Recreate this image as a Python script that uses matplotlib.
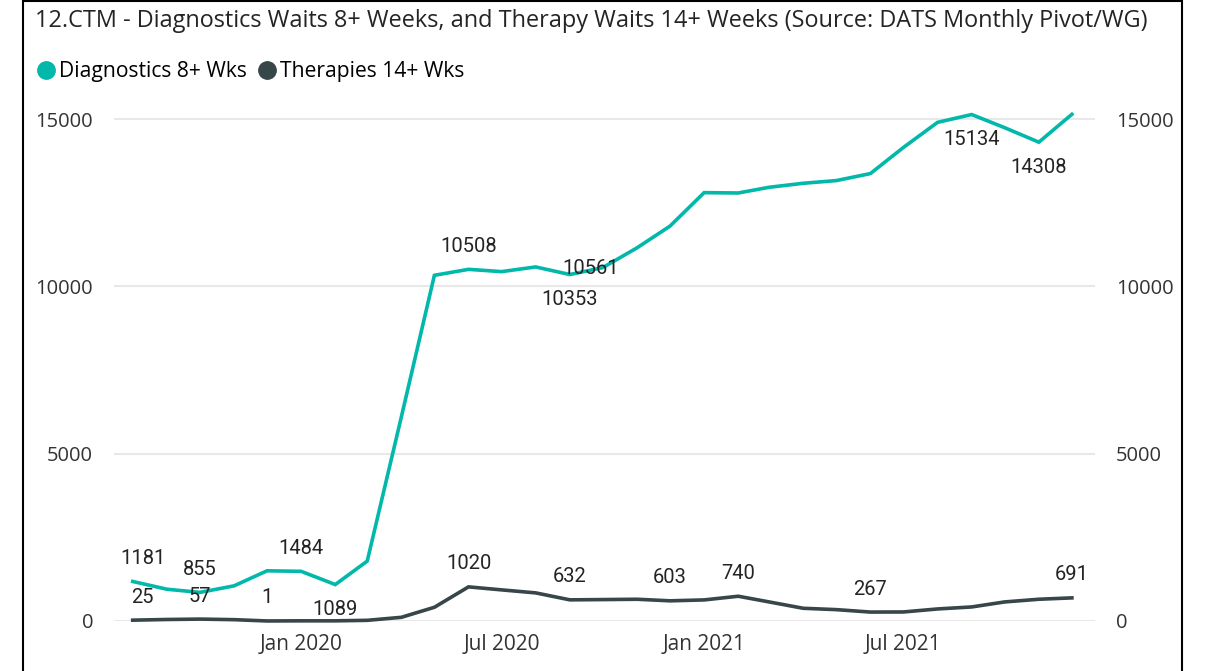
import matplotlib
matplotlib.use("Agg")
import matplotlib.pyplot as plt
import matplotlib.dates as mdates
from matplotlib.patches import Rectangle
from matplotlib.lines import Line2D
import pandas as pd

# ---- dados ----
months = ["2019-08", "2019-09", "2019-10", "2019-11", "2019-12",
          "2020-01", "2020-02", "2020-03", "2020-04", "2020-05", "2020-06",
          "2020-07", "2020-08", "2020-09", "2020-10", "2020-11", "2020-12",
          "2021-01", "2021-02", "2021-03", "2021-04", "2021-05", "2021-06",
          "2021-07", "2021-08", "2021-09", "2021-10", "2021-11", "2021-12"]
diagnostics = [1181, 950, 855, 1050, 1500, 1484, 1089, 1790, 6100, 10330, 10508,
               10440, 10580, 10353, 10561, 11150, 11800, 12800, 12790, 12960,
               13080, 13160, 13370, 14150, 14900, 15134, 14740, 14308, 15140]
therapies = [25, 45, 57, 40, 1, 5, 5, 20, 110, 410, 1020, 930, 840, 632, 640,
             650, 603, 630, 740, 570, 380, 340, 267, 270, 360, 420, 570, 650, 691]
# rotulos visiveis: (indice, posicao)
diag_labels = [(0, "above"), (2, "above"), (5, "above"), (6, "below"), (10, "above"),
               (13, "below"), (14, "mid"), (25, "below"), (27, "below")]
ther_labels = [(0, "above"), (2, "above"), (4, "above"), (10, "above"), (13, "above"),
               (16, "above"), (18, "above"), (22, "above"), (28, "above")]
y_ticks = [0, 5000, 10000, 15000]
series_names = ["Diagnostics 8+ Wks", "Therapies 14+ Wks"]
title = "12.CTM - Diagnostics Waits 8+ Weeks, and Therapy Waits 14+ Weeks (Source: DATS Monthly Pivot/WG)"

TEAL, DARK = "#01B8AA", "#374649"
plt.rcParams["font.family"] = "Open Sans"
plt.rcParams["ytick.major.pad"] = 15
plt.rcParams["xtick.major.pad"] = 9
dates = pd.to_datetime(months)

fig = plt.figure(figsize=(12.11, 6.71), dpi=100)
ax = fig.add_axes([114/1211, 1-621/671, (1095-114)/1211, (621-114)/671])

for s in ax.spines.values(): s.set_visible(False)
ax.set_ylim(0, 15150)
ax.set_xlim(dates[0]-pd.Timedelta(days=17), dates[-1]+pd.Timedelta(days=21))
ax.set_yticks(y_ticks)
ax.grid(axis="y", color="#E8E8E8", lw=1.5)
ax.set_axisbelow(True)
ax.tick_params(axis="y", length=0, labelsize=14.5, labelcolor="#333333", labelright=True)
ax.tick_params(axis="x", length=0, labelsize=15, labelcolor="#333333")
ax.xaxis.set_major_locator(mdates.MonthLocator(bymonth=[1, 7]))
ax.xaxis.set_major_formatter(mdates.DateFormatter("%b %Y"))

ax.plot(dates, diagnostics, color=TEAL, lw=2.6, solid_joinstyle="miter", clip_on=False)
ax.plot(dates, therapies, color=DARK, lw=2.6, solid_joinstyle="miter", clip_on=False)

def put_labels(vals, labs):
    for i, pos in labs:
        dx, dy = 0, 23
        if pos == "below": dy = -25
        if pos == "mid": dx, dy = -12, -1
        if i == 0: dx = 10
        ax.annotate(f"{vals[i]}", (dates[i], vals[i]), xytext=(dx, dy),
                    textcoords="offset pixels", ha="center", va="center",
                    fontsize=14.5, family="Roboto", color="#252423")

put_labels(diagnostics, diag_labels)
put_labels(therapies, ther_labels)

fig.text(35/1211, 1-21/671, title, fontsize=16.9, color="#252423", va="center", ha="left")
handles = [Line2D([], [], ls="", marker="o", ms=12.5, color=TEAL),
           Line2D([], [], ls="", marker="o", ms=12.5, color=DARK)]
fig.legend(handles, series_names, loc="center left", bbox_to_anchor=(25/1211, 1-72/671),
           ncol=2, frameon=False, handletextpad=0.12, columnspacing=0.45,
           handlelength=1.0, borderpad=0, prop={"size": 15.2})

fig.patches.append(Rectangle((23/1211, -0.01), (1182-23)/1211, 1.009,
                             transform=fig.transFigure, fill=False, ec="black", lw=1.5))

fig.savefig("out.png", dpi=100)
